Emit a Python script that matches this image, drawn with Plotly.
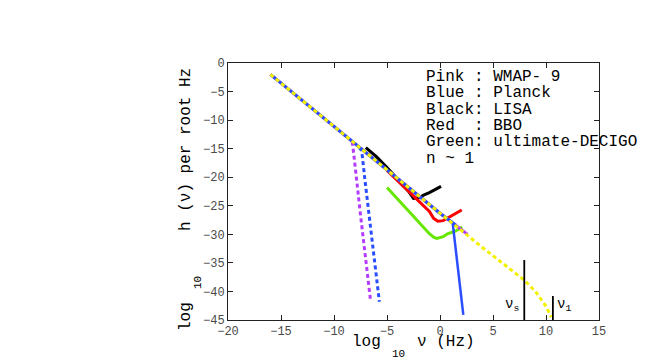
import plotly.graph_objects as go

# curva principal (n ~ 1), log10 nu vs log10 h
main_x = [-16, -8, 0, 4, 7, 8, 9, 10, 10.5]
main_y = [-2, -14.2, -26.3, -32.3, -36.6, -38.1, -40.0, -42.6, -44.5]

# tramos de WMAP-9 y Planck sobre la curva principal
wmap_line_x = [-16, -8, 0, 2.6]
wmap_line_y = [-2, -14.2, -26.3, -30.0]
planck_line_x = [-16, -8, 0, 1.5]
planck_line_y = [-2, -14.2, -26.3, -28.4]

# ramas de caida
wmap_drop_x = [-8.27, -8.05, -7.86, -7.55, -7.24, -6.9, -6.54]
wmap_drop_y = [-13.8, -17.0, -20.5, -25.8, -31.0, -36.5, -41.8]
planck_drop_x = [-7.6, -7.39, -7.08, -6.75, -6.45, -6.1, -5.72]
planck_drop_y = [-14.9, -15.3, -20.5, -25.8, -31.0, -36.4, -41.8]
planck_solid_x = [1.2, 2.2]
planck_solid_y = [-28.1, -44.1]

# sensibilidades de detectores
lisa_x = [-7.0, -6.0, -5.0, -4.0, -3.0, -2.5, -2.0, -1.5, -1.0, 0.1]
lisa_y = [-14.8, -16.4, -18.3, -20.3, -22.4, -23.7, -23.6, -23.1, -22.7, -21.6]
bbo_x = [-5.0, -4.0, -3.0, -2.0, -1.0, -0.6, -0.2, 0.3, 1.0, 2.05]
bbo_y = [-18.8, -20.6, -22.4, -24.2, -26.0, -27.2, -27.7, -27.6, -26.8, -25.75]
decigo_x = [-5.0, -4.0, -3.0, -2.0, -1.0, -0.6, -0.3, 0.3, 0.5, 0.7, 1.5, 2.1]
decigo_y = [-21.8, -23.8, -25.9, -27.9, -29.9, -30.5, -30.7, -30.4, -30.1, -29.9, -29.4, -28.7]

# frecuencias nu_s y nu_1
nu_s = 7.95
nu_s_top = -34.5
nu_1 = 10.65
nu_1_top = -40.8

legend_lines = ["Pink : WMAP- 9", "Blue : Planck", "Black: LISA",
                "Red  : BBO", "Green: ultimate-DECIGO", "n ~ 1"]

PINK = "#b43cff"
BLUE = "#2a4dff"
YELLOW = "#f2f200"
GREEN = "#66e600"
RED = "#ff0000"
MONO = "Courier New, Liberation Mono, monospace"
DASH = "4px,3px"

fig = go.Figure()


def add_line(x, y, color, width=3, dash="solid"):
    fig.add_trace(go.Scatter(x=x, y=y, mode="lines", showlegend=False,
                             line=dict(color=color, width=width, dash=dash),
                             hoverinfo="skip"))


add_line(lisa_x, lisa_y, "black", 3)
add_line(bbo_x, bbo_y, RED, 3)
add_line(decigo_x, decigo_y, GREEN, 3)
add_line(wmap_line_x, wmap_line_y, PINK, 3)
add_line(planck_line_x, planck_line_y, BLUE, 3)
add_line(wmap_drop_x, wmap_drop_y, PINK, 3, DASH)
add_line(planck_drop_x, planck_drop_y, BLUE, 3, DASH)
add_line(planck_solid_x, planck_solid_y, BLUE, 2.5)
add_line(main_x, main_y, YELLOW, 3, DASH)
add_line([nu_s, nu_s], [-45, nu_s_top], "black", 1.8)
add_line([nu_1, nu_1], [-45, nu_1_top], "black", 1.8)

# la pagina tiene 8px de margen en el body
OFF = 8
W, H = 654, 355
L, R, T, B = 220, 63, 55, 43
PW, PH = W - L - R, H - T - B


def px(xp, yp):
    # pixel de la ventana -> coordenadas paper
    return (xp - OFF - L) / PW, (OFF + T + PH - yp) / PH


ann = []
for i, txt in enumerate(legend_lines):
    xp, yp = px(424, 77 + 16.3 * i)
    ann.append(dict(x=xp, y=yp, text=txt.replace(" ", "&nbsp;"), xanchor="left", yanchor="middle",
                    font=dict(family=MONO, size=16, color="black")))

# titulo eje x
for txt, xx, yy, sz in [("log", 366, 342, 16), ("10", 398, 354, 11), ("ν (Hz)", 446, 342, 16)]:
    xp, yp = px(xx, yy)
    ann.append(dict(x=xp, y=yp, text=txt, xanchor="center", yanchor="middle",
                    font=dict(family=MONO, size=sz, color="black")))
# titulo eje y
for txt, xx, yy, sz in [("log", 186, 317, 16), ("10", 198, 283, 11),
                        ("h (ν) per root Hz", 186, 150, 16)]:
    xp, yp = px(xx, yy)
    ann.append(dict(x=xp, y=yp, text=txt, textangle=-90, xanchor="center", yanchor="middle",
                    font=dict(family=MONO, size=sz, color="black")))

ann.append(dict(x=nu_s - 0.3, y=-42.3, xref="x", yref="y", text="ν<sub>s</sub>",
                xanchor="right", yanchor="middle", showarrow=False,
                font=dict(family=MONO, size=14, color="black")))
ann.append(dict(x=nu_1 + 0.2, y=-42.3, xref="x", yref="y", text="ν<sub>1</sub>",
                xanchor="left", yanchor="middle", showarrow=False,
                font=dict(family=MONO, size=14, color="black")))

for a in ann:
    a.setdefault("xref", "paper")
    a.setdefault("yref", "paper")
    a["showarrow"] = False

axis_common = dict(showgrid=False, zeroline=False, showline=True, linecolor="#222",
                   linewidth=1, mirror="ticks", ticks="inside", ticklen=5,
                   tickcolor="#222", tickfont=dict(family=MONO, size=12, color="#4a4a4a"))

fig.update_layout(
    width=W, height=H,
    margin=dict(l=L, r=R, t=T, b=B),
    paper_bgcolor="white", plot_bgcolor="white",
    xaxis=dict(range=[-20, 15], tickvals=list(range(-20, 16, 5)), **axis_common),
    yaxis=dict(range=[-45, 0], tickvals=list(range(-45, 1, 5)), **axis_common),
    annotations=ann,
    showlegend=False,
)

fig.write_html("out.html")
